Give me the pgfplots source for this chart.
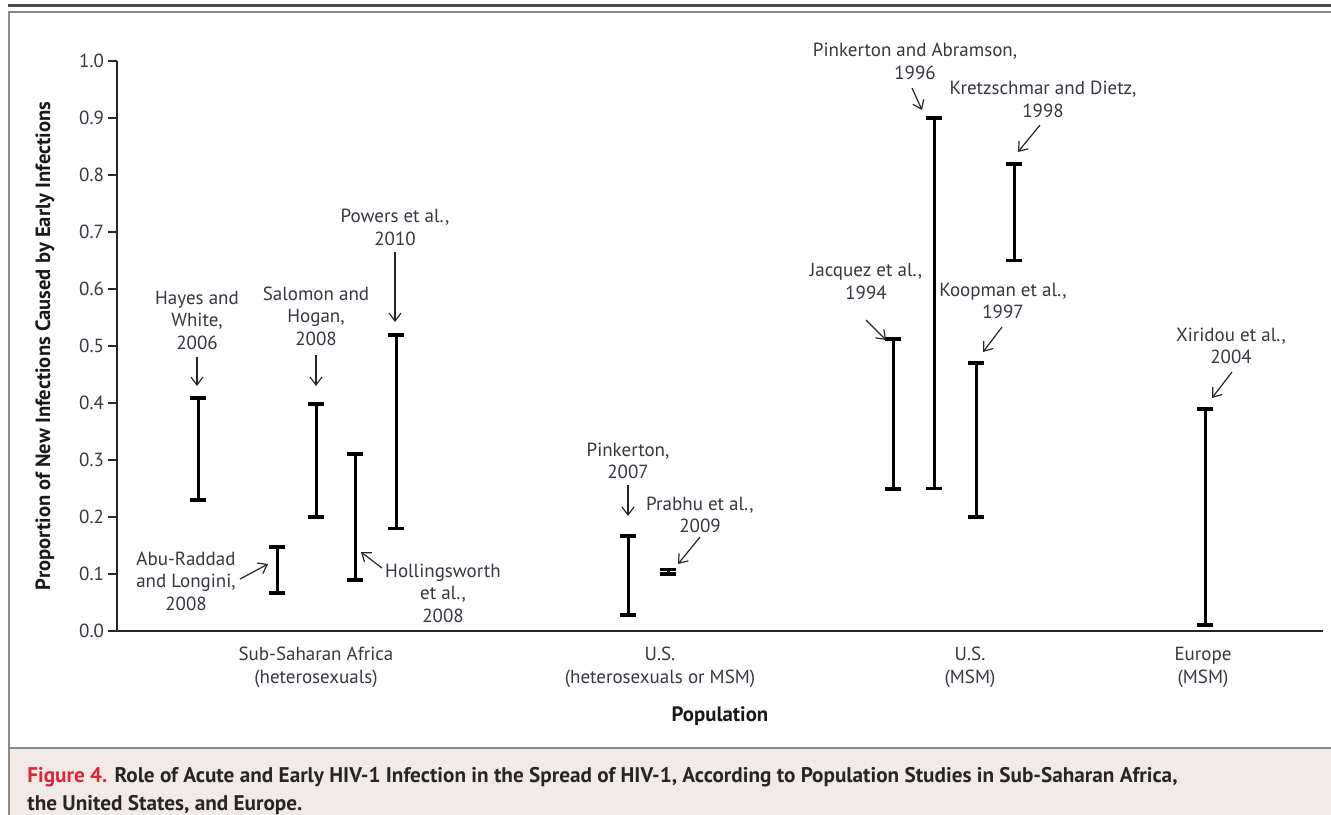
\documentclass[border=0pt]{standalone}
\usepackage{fontspec}
\setmainfont{PT Sans}
\usepackage{pgfplots}
\usepackage{pgfplotstable}
\pgfplotsset{compat=1.18}
\usetikzlibrary{arrows.meta}
\definecolor{txt}{HTML}{3A3540}
\definecolor{capred}{HTML}{D7263D}
\definecolor{capbg}{HTML}{F2EBE5}
\definecolor{framec}{HTML}{8A8A8A}

\pgfplotstableread{
x lo hi
198 0.230 0.409
277 0.067 0.147
316 0.200 0.398
355 0.090 0.310
396 0.180 0.519
628 0.028 0.167
668 0.100 0.108
893 0.249 0.512
934 0.250 0.900
976 0.200 0.470
1014 0.650 0.820
1205 0.010 0.390
}\bars

\newcommand{\ann}{\fontsize{9.5}{11.25}\selectfont}
\begin{document}
\begin{tikzpicture}
\begin{scope}[x=0.5pt,y=-0.5pt]
\useasboundingbox (0,0) rectangle (1331,814);
\fill[white] (0,0) rectangle (1331,814);
\draw[line width=1.5pt, color=black!70] (8,5) -- (1340,5);
\fill[capbg] (9,748) rectangle (1340,820);
\draw[framec, line width=1pt] (9,820) -- (9,12) -- (1340,12);
\draw[framec, line width=1pt] (9,748) -- (1340,748);
\node[anchor=base west, inner sep=0pt, font=\bfseries\fontsize{10.6}{13}\selectfont, text=black!85] at (27,782) {\textcolor{capred}{Figure 4.} Role of Acute and Early HIV-1 Infection in the Spread of HIV-1, According to Population Studies in Sub-Saharan Africa,};
\node[anchor=base west, inner sep=0pt, font=\bfseries\fontsize{10.6}{13}\selectfont, text=black!85] at (27,810) {the United States, and Europe.};
\end{scope}
\begin{axis}[
  at={(58.5pt,-315.5pt)}, anchor=south west,
  scale only axis, width=603pt, height=285pt,
  xmin=117, xmax=1323, ymin=0, ymax=1,
  axis lines=left,
  axis line style={-, line width=0.8pt, black!85},
  clip=false,
  xtick=\empty,
  ytick={0,0.1,0.2,0.3,0.4,0.5,0.6,0.7,0.8,0.9,1.0},
  yticklabel style={/pgf/number format/fixed, /pgf/number format/fixed zerofill, /pgf/number format/precision=1, /pgf/number format/assume math mode=true},
  y tick label style={font=\ann, text=txt, xshift=1.5pt},
  ytick pos=left,
  tick align=outside,
  major tick length=4.5pt,
  tick style={line width=0.8pt, black!85},
]
\addplot[draw=none, mark=none, forget plot,
  error bars/.cd, y dir=both, y explicit,
  error bar style={draw=black, line width=1.5pt},
  error mark options={draw=black, rotate=90, line width=1.9pt, mark size=4pt}]
  table[x=x, y expr=(\thisrow{lo}+\thisrow{hi})/2, y error expr=(\thisrow{hi}-\thisrow{lo})/2] {\bars};

% category labels and axis titles
\node[font=\ann, text=txt, align=center] at (axis cs:316,-0.064) {Sub-Saharan Africa\\(heterosexuals)};
\node[font=\ann, text=txt, align=center] at (axis cs:660,-0.064) {U.S.\\(heterosexuals or MSM)};
\node[font=\ann, text=txt, align=center] at (axis cs:970,-0.064) {U.S.\\(MSM)};
\node[font=\ann, text=txt, align=center] at (axis cs:1203,-0.064) {Europe\\(MSM)};
\node[font=\bfseries\fontsize{10.4}{12}\selectfont, text=black!90] at (axis cs:720,-0.1495) {Population};
\node[font=\bfseries\fontsize{10.3}{12}\selectfont, text=black!90, rotate=90] at (axis cs:45,0.5) {Proportion of New Infections Caused by Early Infections};

% annotations
\tikzset{arr/.style={-{Straight Barb[length=4pt,width=6pt]}, line width=0.6pt, black!85}}
\node[font=\ann, text=txt, align=center] at (axis cs:197,0.5456) {Hayes and\\White,\\2006};
\draw[arr] (axis cs:197,0.4807) -- (axis cs:197,0.4298);
\node[font=\ann, text=txt, align=center] at (axis cs:316,0.5526) {Salomon and\\Hogan,\\2008};
\draw[arr] (axis cs:316,0.4842) -- (axis cs:316,0.4298);
\node[font=\ann, text=txt, align=center] at (axis cs:395,0.7079) {Powers et al.,\\2010};
\draw[arr] (axis cs:395,0.6649) -- (axis cs:395,0.5421);
\node[font=\ann, text=txt, align=center] at (axis cs:186,0.0877) {Abu-Raddad\\and Longini,\\2008};
\draw[arr] (axis cs:240,0.0912) -- (axis cs:268,0.1175);
\node[font=\ann, text=txt, align=center] at (axis cs:443,0.0667) {Hollingsworth\\et al.,\\2008};
\draw[arr] (axis cs:382,0.1105) -- (axis cs:361,0.1386);
\node[font=\ann, text=txt, align=center] at (axis cs:628,0.2982) {Pinkerton,\\2007};
\draw[arr] (axis cs:628,0.2561) -- (axis cs:628,0.2018);
\node[font=\ann, text=txt, align=center] at (axis cs:700,0.2035) {Prabhu et al.,\\2009};
\draw[arr] (axis cs:700,0.1649) -- (axis cs:678,0.1175);
\node[font=\ann, text=txt, align=center] at (axis cs:866,0.6132) {Jacquez et al.,\\1994};
\draw[arr] (axis cs:866,0.5456) -- (axis cs:886,0.5105);
\node[font=\ann, text=txt, align=center] at (axis cs:915,0.9991) {Pinkerton and Abramson,\\1996};
\draw[arr] (axis cs:912,0.9526) -- (axis cs:922,0.914);
\node[font=\ann, text=txt, align=center] at (axis cs:1043,0.9325) {Kretzschmar and Dietz,\\1998};
\draw[arr] (axis cs:1040,0.8877) -- (axis cs:1018,0.8404);
\node[font=\ann, text=txt, align=center] at (axis cs:1003,0.5789) {Koopman et al.,\\1997};
\draw[arr] (axis cs:1002,0.5333) -- (axis cs:983,0.4895);
\node[font=\ann, text=txt, align=center] at (axis cs:1231,0.5) {Xiridou et al.,\\2004};
\draw[arr] (axis cs:1232,0.4544) -- (axis cs:1212,0.4088);
\end{axis}
\end{tikzpicture}
\end{document}
